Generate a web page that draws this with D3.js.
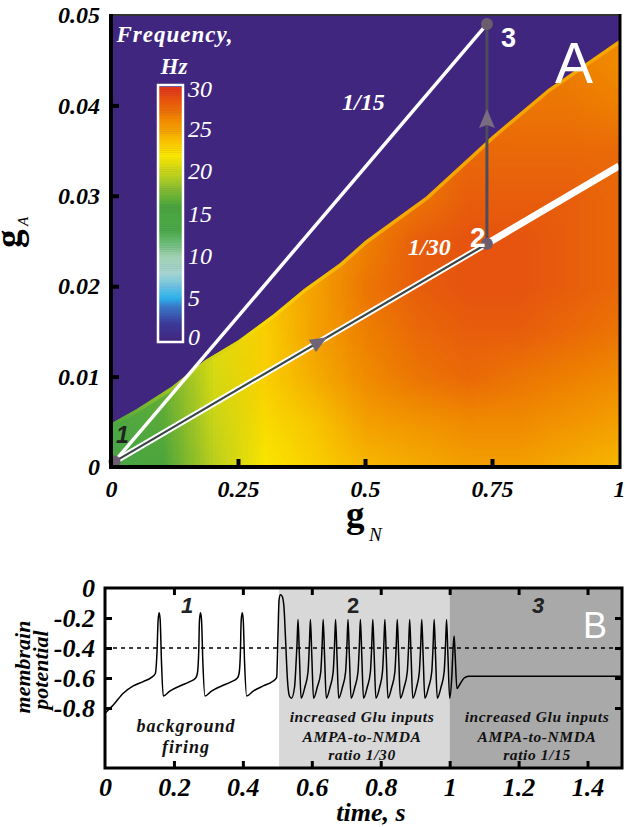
<!DOCTYPE html>
<html><head><meta charset="utf-8">
<script src="https://cdn.jsdelivr.net/npm/d3@7"></script>
<style>
html,body{margin:0;padding:0;background:#fff;}
svg text{font-family:"Liberation Serif","Times New Roman",serif;}
</style></head><body>
<svg id="chart" width="630" height="827"></svg>
<script>
// ---------------- DATA ----------------
// Panel A: frequency map grid (rows = gA values, columns = gN values)
const gNGrid = [0, 0.1, 0.2, 0.3, 0.4, 0.5, 0.6, 0.7, 0.8, 0.9, 1.0];
const gAGrid = [0, 0.005, 0.01, 0.015, 0.02, 0.025, 0.03, 0.035, 0.04, 0.045, 0.05];
const freqGrid = [
  [13.5, 16, 19.5, 22, 23, 24, 24.5, 25, 25, 24.5, 24],
  [14, 16.5, 20, 22.5, 23.5, 25, 25.5, 26, 26, 25.5, 25],
  [14.5, 17, 20.5, 23, 24.5, 26, 27, 27.5, 27, 26.5, 26],
  [15, 17.5, 21, 23, 25, 26.5, 27.5, 28, 28, 27.5, 27],
  [15, 18, 21, 23.5, 25, 27, 28, 28.5, 28.5, 28, 27.5],
  [15, 18, 21.5, 23.5, 25, 26.5, 28, 28.5, 28.5, 28, 27.5],
  [15, 18, 21.5, 23.5, 25, 26.5, 27, 28, 28, 28, 27.5],
  [15, 18, 21.5, 23.5, 25, 26.5, 27, 27.5, 27.5, 27.5, 27.5],
  [15, 18, 21.5, 23.5, 25, 26.5, 27, 27.5, 27, 27, 26.5],
  [15, 18, 21.5, 23.5, 25, 26.5, 27, 27.5, 27, 26.5, 26],
  [15, 18, 21.5, 23.5, 25, 26.5, 27, 27.5, 27, 26.5, 26]
];
// boundary of the no-firing (0 Hz) region: [gN, gA]
const boundary = [[0,0.0048],[0.05,0.0064],[0.12,0.0089],[0.185,0.0118],[0.25,0.0140],[0.32,0.0169],[0.38,0.0197],[0.45,0.0225],[0.5,0.0250],[0.62,0.0299],[0.75,0.0366],[0.86,0.0418],[1.0,0.0472]];
// lighter rim just inside the boundary: [gN, Hz]
const rimGN = [0, 0.15, 0.3, 0.45, 0.6, 1];
const rimHz = [15.5, 19.5, 22.5, 23.8, 24.3, 24.5];
// colour scale stops (Hz -> colour)
const cStopVals = [0, 2, 4, 5, 6.5, 8, 10, 11.5, 13, 16, 18, 20, 22, 23.5, 25, 26.5, 28, 30];
const cStopCols = ['#40267f','#3c3a98','#3a78c8','#2cb0ea','#70c4e0','#a6d4d0','#a0d0b0','#6cbc78','#4aa848','#4aa43c','#88bc30','#c8d418','#fae600','#f8c400','#f4a000','#ee8000','#e85e0c','#e03418'];
const cbTicks = [0, 5, 10, 15, 20, 25, 30];
// trajectory points: [gN, gA]
const pt1 = [0.007, 0.0006];
const pt2 = [0.74, 0.0247];
const pt3 = [0.74, 0.0490];
const line30End = [1.0, 0.0333];
const arrow12At = 0.41;     // gN of arrow on 1->2
const arrow23At = 0.0385;   // gA of arrow on 2->3
const gNTicks = [0, 0.25, 0.5, 0.75, 1];
const gNLabels = ['0', '0.25', '0.5', '0.75', '1'];
const gATicks = [0, 0.01, 0.02, 0.03, 0.04, 0.05];
const gALabels = ['0', '0.01', '0.02', '0.03', '0.04', '0.05'];

// Panel B: membrane potential trace [t, V]
const trace = [
[0,-0.835],[0.024,-0.78],[0.053,-0.702],[0.082,-0.653],[0.111,-0.624],[0.135,-0.596],[0.146,-0.57],[0.151,-0.42],[0.154,-0.22],[0.157,-0.165],[0.160,-0.21],[0.164,-0.5],[0.169,-0.72],
[0.188,-0.687],[0.217,-0.653],[0.246,-0.624],[0.263,-0.6],[0.268,-0.57],[0.272,-0.42],[0.274,-0.22],[0.277,-0.165],[0.280,-0.21],[0.284,-0.5],[0.290,-0.72],
[0.309,-0.687],[0.338,-0.653],[0.367,-0.624],[0.384,-0.6],[0.389,-0.57],[0.393,-0.42],[0.395,-0.22],[0.398,-0.165],[0.401,-0.21],[0.405,-0.5],[0.411,-0.72],
[0.430,-0.687],[0.459,-0.653],[0.488,-0.62],[0.498,-0.596],[0.502,-0.3],[0.505,-0.08],[0.509,-0.045],[0.514,-0.055],[0.519,-0.12],[0.524,-0.35],[0.529,-0.6],[0.535,-0.72],[0.541,-0.735],
[0.550,-0.66],[0.553,-0.56],[0.557,-0.38],[0.560,-0.21],[0.564,-0.45],[0.569,-0.735],[0.580,-0.66],
[0.589,-0.56],[0.593,-0.38],[0.596,-0.21],[0.600,-0.45],[0.605,-0.735],[0.616,-0.66],
[0.626,-0.56],[0.630,-0.38],[0.633,-0.21],[0.637,-0.45],[0.642,-0.735],[0.653,-0.66],
[0.662,-0.56],[0.666,-0.38],[0.669,-0.21],[0.673,-0.45],[0.678,-0.735],[0.689,-0.66],
[0.698,-0.56],[0.702,-0.38],[0.705,-0.21],[0.709,-0.45],[0.714,-0.735],[0.725,-0.66],
[0.734,-0.56],[0.738,-0.38],[0.741,-0.21],[0.745,-0.45],[0.750,-0.735],[0.761,-0.66],
[0.770,-0.56],[0.774,-0.38],[0.777,-0.21],[0.781,-0.45],[0.786,-0.735],[0.797,-0.66],
[0.805,-0.56],[0.809,-0.38],[0.812,-0.21],[0.816,-0.45],[0.821,-0.735],[0.832,-0.66],
[0.841,-0.56],[0.845,-0.38],[0.848,-0.21],[0.852,-0.45],[0.857,-0.735],[0.868,-0.66],
[0.877,-0.56],[0.881,-0.38],[0.884,-0.21],[0.888,-0.45],[0.893,-0.735],[0.904,-0.66],
[0.912,-0.56],[0.916,-0.38],[0.919,-0.21],[0.923,-0.45],[0.928,-0.735],[0.939,-0.66],
[0.948,-0.56],[0.952,-0.38],[0.955,-0.21],[0.959,-0.45],[0.964,-0.735],[0.975,-0.66],
[0.984,-0.56],[0.988,-0.38],[0.991,-0.21],[0.995,-0.45],[1.000,-0.735],
[1.006,-0.6],[1.010,-0.4],[1.013,-0.32],[1.016,-0.45],[1.021,-0.67],[1.030,-0.64],[1.042,-0.6],[1.055,-0.588],[1.5,-0.588]
];
const threshold = -0.4;
const phaseStarts = [0, 0.505, 1.0];
const phaseEnds = [0.505, 1.0, 1.5];
const phaseFills = ['#ffffff', '#d8d8d8', '#a9a9a9'];
const phaseNums = ['1', '2', '3'];
const phaseText = [
  ['background', 'firing'],
  ['increased Glu inputs', 'AMPA-to-NMDA', 'ratio 1/30'],
  ['increased Glu inputs', 'AMPA-to-NMDA', 'ratio 1/15']
];
const tTicks = [0, 0.2, 0.4, 0.6, 0.8, 1, 1.2, 1.4];
const tLabels = ['0', '0.2', '0.4', '0.6', '0.8', '1', '1.2', '1.4'];
const vTicks = [0, -0.2, -0.4, -0.6, -0.8];
const vLabels = ['0', '-0.2', '-0.4', '-0.6', '-0.8'];

// ---------------- DRAW ----------------
const svg = d3.select('#chart');
const defs = svg.append('defs');
const SERIF = '"Liberation Serif","Times New Roman",serif';
const SANS = '"Liberation Sans",Arial,sans-serif';

const colour = d3.scaleLinear().domain(cStopVals).range(cStopCols).clamp(true);

// ===== Panel A =====
const xA = d3.scaleLinear().domain([0, 1]).range([111, 619]);
const yA = d3.scaleLinear().domain([0, 0.05]).range([467, 15]);

defs.append('clipPath').attr('id', 'plotA')
  .append('rect').attr('x', xA(0)).attr('y', yA(0.05)).attr('width', xA(1) - xA(0)).attr('height', yA(0) - yA(0.05));

const clipPoly = boundary.concat([[1, -0.002], [0, -0.002]]);
defs.append('clipPath').attr('id', 'fieldClip')
  .append('path').attr('d', d3.line().x(d => xA(d[0])).y(d => yA(d[1]))(clipPoly) + 'Z');

const gA_ = svg.append('g').attr('clip-path', 'url(#plotA)');
gA_.append('rect').attr('x', xA(0)).attr('y', yA(0.05)).attr('width', xA(1) - xA(0)).attr('height', yA(0) - yA(0.05)).attr('fill', colour(0));

// field image via small canvas smoothed by the browser
const nx = gNGrid.length, ny = gAGrid.length;
const cvs = document.createElement('canvas');
cvs.width = nx; cvs.height = ny;
const ctx = cvs.getContext('2d');
const imgData = ctx.createImageData(nx, ny);
for (let j = 0; j < ny; j++) {
  for (let i = 0; i < nx; i++) {
    const c = d3.rgb(colour(freqGrid[j][i]));
    const row = ny - 1 - j;
    const k = (row * nx + i) * 4;
    imgData.data[k] = c.r; imgData.data[k + 1] = c.g; imgData.data[k + 2] = c.b; imgData.data[k + 3] = 255;
  }
}
ctx.putImageData(imgData, 0, 0);
const dxg = (gNGrid[1] - gNGrid[0]) / 2, dyg = (gAGrid[1] - gAGrid[0]) / 2;
const fieldG = gA_.append('g').attr('clip-path', 'url(#fieldClip)');
fieldG.append('image')
  .attr('href', cvs.toDataURL())
  .attr('x', xA(gNGrid[0] - dxg)).attr('y', yA(gAGrid[ny - 1] + dyg))
  .attr('width', xA(gNGrid[nx - 1] + dxg) - xA(gNGrid[0] - dxg))
  .attr('height', yA(gAGrid[0] - dyg) - yA(gAGrid[ny - 1] + dyg))
  .attr('preserveAspectRatio', 'none')
  .style('image-rendering', 'auto');

// rim along the boundary
const rimGrad = defs.append('linearGradient').attr('id', 'rimGrad')
  .attr('gradientUnits', 'userSpaceOnUse').attr('x1', xA(0)).attr('x2', xA(1)).attr('y1', 0).attr('y2', 0);
rimGN.forEach((g, i) => rimGrad.append('stop').attr('offset', g).attr('stop-color', colour(rimHz[i])));
fieldG.append('path').attr('d', d3.line().x(d => xA(d[0])).y(d => yA(d[1])).curve(d3.curveLinear)(boundary))
  .attr('fill', 'none').attr('stroke', 'url(#rimGrad)').attr('stroke-width', 7).attr('stroke-opacity', 0.85);

// lines
const lineA = d3.line().x(d => xA(d[0])).y(d => yA(d[1]));
gA_.append('path').attr('d', lineA([pt1, pt3])).attr('stroke', '#fff').attr('stroke-width', 3.5).attr('fill', 'none');
gA_.append('path').attr('d', lineA([pt2, line30End])).attr('stroke', '#fff').attr('stroke-width', 7).attr('fill', 'none');
gA_.append('path').attr('d', lineA([pt1, pt2])).attr('stroke', '#fff').attr('stroke-width', 6).attr('fill', 'none');
gA_.append('path').attr('d', lineA([pt1, pt2])).attr('stroke', '#3a4646').attr('stroke-width', 2.2).attr('fill', 'none');
gA_.append('path').attr('d', lineA([pt2, pt3])).attr('stroke', '#4c4c5c').attr('stroke-width', 3).attr('fill', 'none');

// arrows
const slope12 = (pt2[1] - pt1[1]) / (pt2[0] - pt1[0]);
const a12 = [arrow12At, pt1[1] + slope12 * (arrow12At - pt1[0])];
const ang12 = Math.atan2(yA(pt2[1]) - yA(pt1[1]), xA(pt2[0]) - xA(pt1[0])) * 180 / Math.PI;
gA_.append('path').attr('d', 'M9,0 L-8,-7 L-8,7 Z').attr('fill', '#6e6478')
  .attr('transform', `translate(${xA(a12[0])},${yA(a12[1])}) rotate(${ang12})`);
gA_.append('path').attr('d', 'M10,0 L-9,-8 L-6,0 L-9,8 Z').attr('fill', '#7a6c80')
  .attr('transform', `translate(${xA(pt2[0])},${yA(arrow23At)}) rotate(-90)`);

// points
[pt1, pt2, pt3].forEach(p => {
  svg.append('circle').attr('cx', xA(p[0])).attr('cy', yA(p[1])).attr('r', 6).attr('fill', '#6d5c6d');
});

// frame A
svg.append('line').attr('x1', xA(0)).attr('x2', xA(1)).attr('y1', yA(0.05)).attr('y2', yA(0.05)).attr('stroke', '#333').attr('stroke-width', 2);
svg.append('line').attr('x1', xA(1) + 1).attr('x2', xA(1) + 1).attr('y1', yA(0.05) - 1).attr('y2', yA(0) + 2).attr('stroke', '#000').attr('stroke-width', 3);
svg.append('line').attr('x1', xA(0)).attr('x2', xA(0)).attr('y1', yA(0.05) - 1).attr('y2', yA(0) + 2).attr('stroke', '#000').attr('stroke-width', 4);
svg.append('line').attr('x1', xA(0) - 2).attr('x2', xA(1) + 2).attr('y1', yA(0)).attr('y2', yA(0)).attr('stroke', '#000').attr('stroke-width', 4);

// axes A
const axLA = d3.axisLeft(yA).tickValues(gATicks).tickFormat((d, i) => gALabels[i]).tickSizeInner(-8).tickSizeOuter(0).tickPadding(11);
const gAxL = svg.append('g').attr('transform', `translate(${xA(0)},0)`).call(axLA);
const axBA = d3.axisBottom(xA).tickValues(gNTicks).tickFormat((d, i) => gNLabels[i]).tickSizeInner(-8).tickSizeOuter(0).tickPadding(13);
const gAxB = svg.append('g').attr('transform', `translate(0,${yA(0)})`).call(axBA);
[gAxL, gAxB].forEach(g => {
  g.select('.domain').remove();
  g.selectAll('.tick line').attr('stroke', '#000').attr('stroke-width', 4);
  g.selectAll('.tick text').attr('fill', '#000').style('font-family', SERIF).style('font-weight', 'bold').style('font-style', 'italic').style('font-size', '24px');
});
gAxL.selectAll('.tick').filter(d => d === 0 || d === 0.05).select('line').remove();
gAxB.selectAll('.tick').filter(d => d === 0 || d === 1).select('line').remove();

// axis titles A
const gAT = svg.append('g').attr('transform', 'translate(21,248) rotate(-90)');
gAT.append('text').attr('x', 0).attr('y', 0).text('g').style('font-family', SERIF).style('font-weight', 'bold').style('font-size', '37px').attr('fill', '#000');
gAT.append('text').attr('x', 22).attr('y', 7).text('A').style('font-family', SERIF).style('font-style', 'italic').style('font-size', '15px').attr('fill', '#000');
svg.append('text').attr('x', 346).attr('y', 527).text('g').style('font-family', SERIF).style('font-weight', 'bold').style('font-size', '37px').attr('fill', '#000');
svg.append('text').attr('x', 369).attr('y', 541).text('N').style('font-family', SERIF).style('font-style', 'italic').style('font-size', '19px').attr('fill', '#000');

// colorbar
const cb = d3.scaleLinear().domain([0, 30]).range([340, 87]);
const cbX = 159, cbW = 23;
const cbSteps = d3.range(0, 30, 0.25);
svg.append('g').selectAll('rect').data(cbSteps).join('rect')
  .attr('x', cbX).attr('width', cbW)
  .attr('y', d => cb(d + 0.25)).attr('height', d => cb(d) - cb(d + 0.25) + 0.5)
  .attr('fill', d => colour(d + 0.125));
svg.append('rect').attr('x', cbX - 1).attr('y', cb(30) - 2).attr('width', cbW + 2).attr('height', cb(0) - cb(30) + 4)
  .attr('fill', 'none').attr('stroke', '#fff').attr('stroke-width', 2.5);
svg.append('g').selectAll('text').data(cbTicks).join('text')
  .attr('x', 188).attr('y', d => cb(d) + 8 + (d === 30 ? 2 : 0) - (d === 0 ? 3 : 0))
  .text(d => d).attr('fill', '#fff')
  .style('font-family', SERIF).style('font-style', 'italic').style('font-size', '24px');
svg.append('text').attr('x', 175).attr('y', 42).attr('text-anchor', 'middle').text('Frequency,')
  .attr('fill', '#fff').style('font-family', SERIF).style('font-weight', 'bold').style('font-style', 'italic').style('font-size', '23px').style('letter-spacing', '1px');
svg.append('text').attr('x', 174).attr('y', 74).attr('text-anchor', 'middle').text('Hz')
  .attr('fill', '#fff').style('font-family', SERIF).style('font-weight', 'bold').style('font-style', 'italic').style('font-size', '23px');

// annotations A
svg.append('text').attr('x', 342).attr('y', 110).text('1/15').attr('fill', '#fff').style('font-family', SERIF).style('font-style', 'italic').style('font-size', '24px').style('font-weight', 'bold');
svg.append('text').attr('x', 408).attr('y', 255).text('1/30').attr('fill', '#fff').style('font-family', SERIF).style('font-style', 'italic').style('font-size', '24px').style('font-weight', 'bold');
svg.append('text').attr('x', 501).attr('y', 47).text('3').attr('fill', '#fff').style('font-family', SANS).style('font-weight', 'bold').style('font-size', '27px');
svg.append('text').attr('x', 470).attr('y', 247).text('2').attr('fill', '#fff').style('font-family', SANS).style('font-weight', 'bold').style('font-size', '28px');
svg.append('text').attr('x', 116).attr('y', 443).text('1').attr('fill', '#222').style('font-family', SANS).style('font-weight', 'bold').style('font-style', 'italic').style('font-size', '23px');
svg.append('text').attr('x', 555).attr('y', 83).text('A').attr('fill', '#fff').style('font-family', SANS).style('font-size', '57px');

// ===== Panel B =====
const xB = d3.scaleLinear().domain([0, 1.5]).range([105, 622]);
const yB = d3.scaleLinear().domain([-1.2, 0]).range([768, 588]);

svg.append('g').selectAll('rect').data(phaseStarts).join('rect')
  .attr('x', (d) => xB(d)).attr('width', (d, i) => xB(phaseEnds[i]) - xB(d))
  .attr('y', yB(0)).attr('height', yB(-1.2) - yB(0))
  .attr('fill', (d, i) => phaseFills[i]);

svg.append('line').attr('x1', xB(0)).attr('x2', xB(1.5)).attr('y1', yB(threshold)).attr('y2', yB(threshold))
  .attr('stroke', '#000').attr('stroke-width', 1.6).attr('stroke-dasharray', '4,4');

svg.append('path').attr('d', d3.line().x(d => xB(d[0])).y(d => yB(d[1])).curve(d3.curveMonotoneX)(trace))
  .attr('fill', 'none').attr('stroke', '#000').attr('stroke-width', 1.5);

// phase numbers & texts
const phaseNumX = [187, 353, 538];
phaseNums.forEach((n, i) => {
  svg.append('text').attr('x', phaseNumX[i]).attr('y', 613).attr('text-anchor', 'middle').text(n)
    .attr('fill', '#222').style('font-family', SANS).style('font-weight', 'bold').style('font-style', i === 1 ? 'normal' : 'italic').style('font-size', '22px');
});
const phaseTextCx = [186, 362, 537];
phaseText.forEach((lines, i) => {
  const ys = i === 0 ? [732, 753] : [722, 742, 760];
  const fs = i === 0 ? '18px' : '15.5px';
  lines.forEach((s, k) => {
    svg.append('text').attr('x', phaseTextCx[i]).attr('y', ys[k]).attr('text-anchor', 'middle').text(s)
      .attr('fill', '#111').style('font-family', SERIF).style('font-weight', 'bold').style('font-style', 'italic')
      .style('font-size', fs).style('letter-spacing', i === 0 ? '1px' : '0.6px');
  });
});
svg.append('text').attr('x', 583).attr('y', 638).text('B').attr('fill', '#fff').style('font-family', SANS).style('font-size', '36px');

// frame B
svg.append('rect').attr('x', xB(0)).attr('y', yB(0)).attr('width', xB(1.5) - xB(0)).attr('height', yB(-1.2) - yB(0))
  .attr('fill', 'none').attr('stroke', '#000').attr('stroke-width', 3);

// axes B
const styleAx = g => {
  g.select('.domain').remove();
  g.selectAll('.tick line').attr('stroke', '#000').attr('stroke-width', 3);
  g.selectAll('.tick text').attr('fill', '#000').style('font-family', SERIF).style('font-weight', 'bold').style('font-style', 'italic').style('font-size', '26px');
};
const gBL = svg.append('g').attr('transform', `translate(${xB(0)},0)`)
  .call(d3.axisLeft(yB).tickValues(vTicks).tickFormat((d, i) => vLabels[i]).tickSizeInner(-7).tickSizeOuter(0).tickPadding(10));
styleAx(gBL);
gBL.selectAll('.tick').filter(d => d === 0).select('line').remove();
const gBR = svg.append('g').attr('transform', `translate(${xB(1.5)},0)`)
  .call(d3.axisRight(yB).tickValues(vTicks.slice(1)).tickFormat('').tickSizeInner(-7).tickSizeOuter(0));
styleAx(gBR);
const gBB = svg.append('g').attr('transform', `translate(0,${yB(-1.2)})`)
  .call(d3.axisBottom(xB).tickValues(tTicks).tickFormat((d, i) => tLabels[i]).tickSizeInner(-7).tickSizeOuter(0).tickPadding(10));
styleAx(gBB);
gBB.selectAll('.tick').filter(d => d === 0).select('line').remove();
const gBT = svg.append('g').attr('transform', `translate(0,${yB(0)})`)
  .call(d3.axisTop(xB).tickValues(tTicks.slice(1)).tickFormat('').tickSizeInner(-7).tickSizeOuter(0));
styleAx(gBT);

// axis titles B
svg.append('text').attr('x', 371).attr('y', 821).attr('text-anchor', 'middle').text('time, s')
  .attr('fill', '#000').style('font-family', SERIF).style('font-weight', 'bold').style('font-style', 'italic').style('font-size', '26px');
const yt = svg.append('g');
yt.append('text').attr('transform', 'translate(30,667) rotate(-90)').attr('text-anchor', 'middle').text('membrain')
  .attr('fill', '#000').style('font-family', SERIF).style('font-weight', 'bold').style('font-style', 'italic').style('font-size', '22px');
yt.append('text').attr('transform', 'translate(48,670) rotate(-90)').attr('text-anchor', 'middle').text('potential')
  .attr('fill', '#000').style('font-family', SERIF).style('font-weight', 'bold').style('font-style', 'italic').style('font-size', '22px');
</script></body></html>
